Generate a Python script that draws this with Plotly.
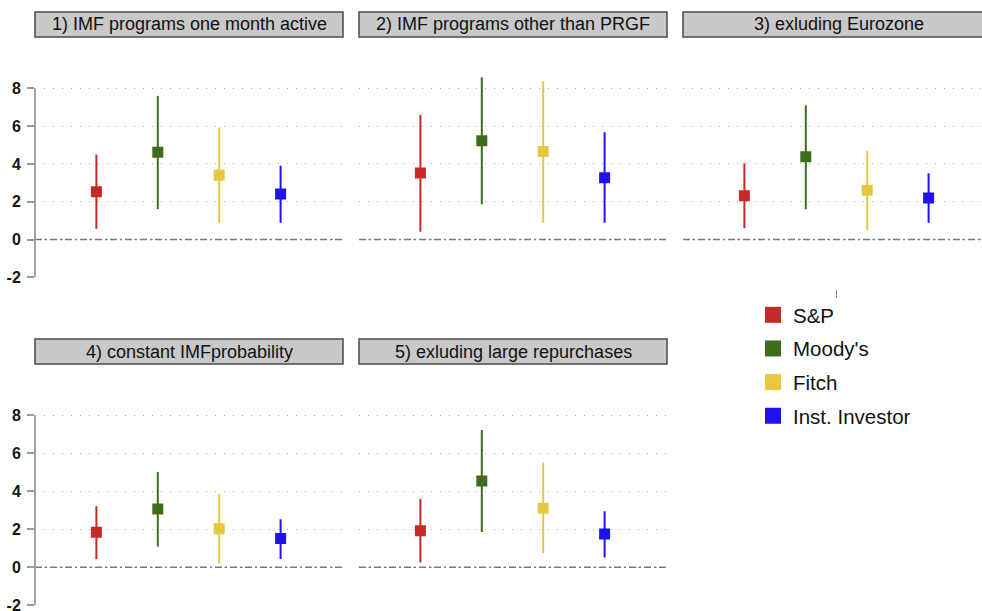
import plotly.graph_objects as go

# Rating agencies and their colours
agencies = ["S&P", "Moody's", "Fitch", "Inst. Investor"]
colors = ["#c42b27", "#3e6b1d", "#e6c840", "#1e12ef"]
positions = [1, 2, 3, 4]

titles = [
    "1) IMF programs one month active",
    "2) IMF programs other than PRGF",
    "3) exluding Eurozone",
    "4) constant IMFprobability",
    "5) exluding large repurchases",
]

# Point estimates with lower / upper confidence bounds, one list per panel
coef_p1 = [2.53, 4.61, 3.40, 2.41]
lower_p1 = [0.57, 1.61, 0.86, 0.89]
upper_p1 = [4.50, 7.59, 5.92, 3.90]

coef_p2 = [3.52, 5.23, 4.65, 3.27]
lower_p2 = [0.41, 1.86, 0.89, 0.89]
upper_p2 = [6.59, 8.58, 8.37, 5.67]

coef_p3 = [2.32, 4.38, 2.60, 2.20]
lower_p3 = [0.59, 1.60, 0.50, 0.89]
upper_p3 = [4.03, 7.10, 4.70, 3.50]

coef_p4 = [1.84, 3.07, 2.03, 1.51]
lower_p4 = [0.42, 1.09, 0.21, 0.44]
upper_p4 = [3.21, 5.02, 3.87, 2.53]

coef_p5 = [1.93, 4.54, 3.11, 1.75]
lower_p5 = [0.25, 1.86, 0.74, 0.51]
upper_p5 = [3.60, 7.23, 5.51, 2.95]

y_ticks = [-2, 0, 2, 4, 6, 8]

panels = [
    (coef_p1, lower_p1, upper_p1),
    (coef_p2, lower_p2, upper_p2),
    (coef_p3, lower_p3, upper_p3),
    (coef_p4, lower_p4, upper_p4),
    (coef_p5, lower_p5, upper_p5),
]

W, H = 982, 611
FONT = "Liberation Sans, Arial, Helvetica, sans-serif"


def px_x(p):
    return p / W


def px_y(p):
    return 1 - p / H


# pixel boxes of each panel: (left, right, top, bottom) and header box
plot_boxes = [
    (35, 342, 69.4, 277.3),
    (359, 666, 69.4, 277.3),
    (683, 982, 69.4, 277.3),
    (35, 342, 396.3, 605.3),
    (359, 666, 396.3, 605.3),
]
header_boxes = [
    (35, 343, 12, 37),
    (359, 667, 12, 37),
    (683, 995, 12, 37),
    (35, 343, 339, 364),
    (359, 667, 339, 364),
]

fig = go.Figure()
layout = {}
shapes = []
annotations = []

for i, ((coef, lo, hi), title) in enumerate(zip(panels, titles)):
    n = i + 1
    xa = "x" if n == 1 else f"x{n}"
    ya = "y" if n == 1 else f"y{n}"
    left, right, top, bottom = plot_boxes[i]
    has_labels = n in (1, 4)
    x_max = 5 * (right - left) / 307.0

    for j, name in enumerate(agencies):
        fig.add_trace(go.Scatter(
            x=[positions[j]], y=[coef[j]],
            mode="markers",
            marker=dict(symbol="square", size=11, color=colors[j]),
            error_y=dict(
                type="data", symmetric=False,
                array=[hi[j] - coef[j]], arrayminus=[coef[j] - lo[j]],
                color=colors[j], thickness=2, width=0,
            ),
            xaxis=xa, yaxis=ya, name=name, showlegend=False,
            hoverinfo="skip",
        ))

    layout["xaxis" if n == 1 else f"xaxis{n}"] = dict(
        domain=[px_x(left), px_x(right)], range=[0, x_max],
        showgrid=False, zeroline=False, showticklabels=False, ticks="",
        showline=False, anchor=ya, fixedrange=True, automargin=False,
    )
    layout["yaxis" if n == 1 else f"yaxis{n}"] = dict(
        domain=[px_y(bottom), px_y(top)], range=[-2, 9],
        tickvals=y_ticks, ticktext=[str(v) for v in y_ticks],
        showticklabels=has_labels, ticklabeloverflow="allow",
        ticks="outside" if has_labels else "", ticklen=7, tickwidth=1.5,
        tickcolor="#9a9a9a", ticklabelstandoff=3,
        tickfont=dict(family=FONT, size=16, color="#161616", weight="bold"),
        showgrid=True, gridcolor="#aaaaaa", gridwidth=1, griddash="1px,8px",
        zeroline=False, showline=False, anchor=xa, fixedrange=True,
        automargin=False,
    )

    # reference line at zero
    shapes.append(dict(
        type="line", xref=f"{xa} domain", yref=ya, x0=0, x1=1, y0=0, y1=0,
        line=dict(color="#7a7a7a", width=1.6, dash="7px,3px,2px,3px"),
        layer="above",
    ))
    # vertical axis line spanning the tick range
    if has_labels:
        shapes.append(dict(
            type="line", xref=f"{xa} domain", yref=ya, x0=0, x1=0,
            y0=y_ticks[0], y1=y_ticks[-1],
            line=dict(color="#9a9a9a", width=1.8), layer="above",
        ))

    # panel header
    hl, hr, ht, hb = header_boxes[i]
    shapes.append(dict(
        type="rect", xref="paper", yref="paper",
        x0=px_x(hl), x1=px_x(hr), y0=px_y(hb), y1=px_y(ht),
        fillcolor="#c9c9c9", line=dict(color="#4a4a4a", width=1.5),
        layer="above",
    ))
    annotations.append(dict(
        text=title, xref="paper", yref="paper",
        x=px_x((hl + hr) / 2), y=px_y((ht + hb) / 2),
        xanchor="center", yanchor="middle", showarrow=False,
        font=dict(family=FONT, size=18, color="#111111"),
    ))

# small x tick at the centre of panel 3
shapes.append(dict(
    type="line", xref="x3", yref="paper", x0=2.5, x1=2.5,
    y0=px_y(298), y1=px_y(290), line=dict(color="#888888", width=1),
))

# legend entries
for j, name in enumerate(agencies):
    fig.add_trace(go.Scatter(
        x=[None], y=[None], mode="markers",
        marker=dict(symbol="square", size=16, color=colors[j]),
        name=name, legendgroup=name, showlegend=True,
    ))

fig.update_layout(
    **layout,
    width=W, height=H,
    margin=dict(l=0, r=0, t=0, b=0, autoexpand=False),
    paper_bgcolor="white", plot_bgcolor="white",
    shapes=shapes, annotations=annotations,
    showlegend=True,
    legend=dict(
        x=px_x(753), y=px_y(295), xanchor="left", yanchor="top",
        font=dict(family=FONT, size=20.5, color="#111111"),
        tracegroupgap=4, itemsizing="trace", bgcolor="rgba(0,0,0,0)",
    ),
)

fig.write_html("out.html")
